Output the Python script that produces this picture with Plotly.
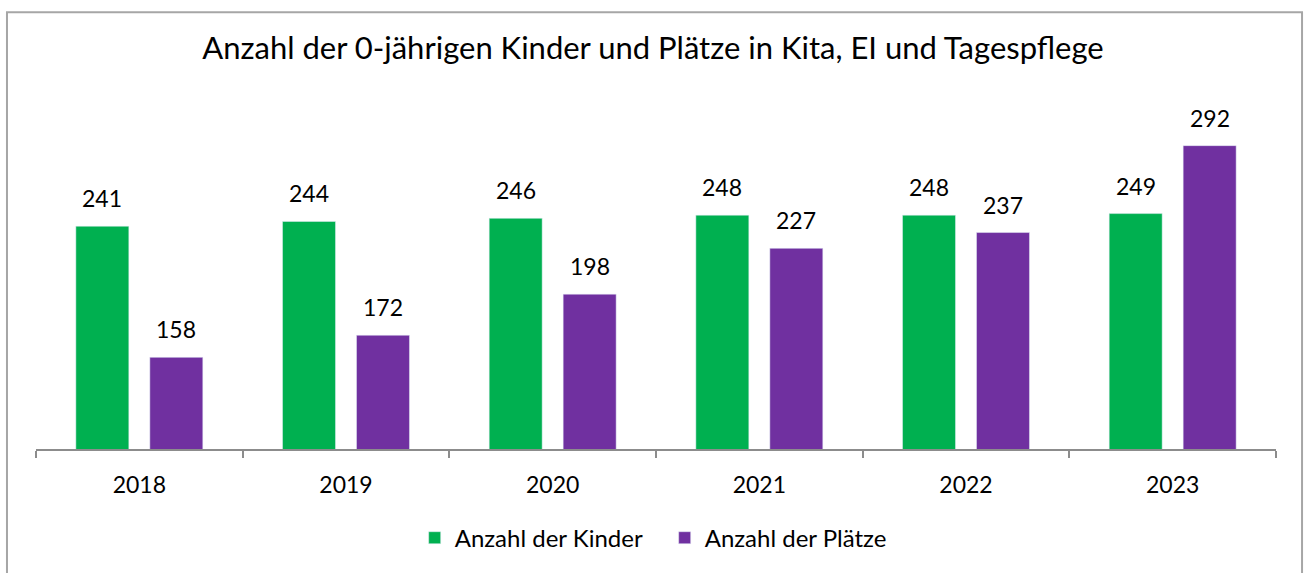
import plotly.graph_objects as go

years = ["2018", "2019", "2020", "2021", "2022", "2023"]
kinder = [241, 244, 246, 248, 248, 249]
plaetze = [158, 172, 198, 227, 237, 292]
series_names = ["Anzahl der Kinder", "Anzahl der Plätze"]
title_text = "Anzahl der 0-jährigen Kinder und Plätze in Kita, EI und Tagespflege"

GREEN = "#00B050"
PURPLE = "#7030A0"
FONT = "Lato, sans-serif"

fig = go.Figure()
fig.add_trace(go.Bar(x=years, y=kinder, name=series_names[0], marker_color=GREEN))
fig.add_trace(go.Bar(x=years, y=plaetze, name=series_names[1], marker_color=PURPLE))

annotations = []
for series, shift in ((kinder, -37), (plaetze, 37)):
    for i, v in enumerate(series):
        annotations.append(dict(
            x=i, y=v, xref="x", yref="y", text=str(v), showarrow=False,
            xshift=shift, yshift=12, yanchor="bottom",
            font=dict(family=FONT, size=23, color="#000000"),
        ))

fig.update_layout(
    width=1306, height=573,
    margin=dict(l=36, r=30, t=133, b=121),
    paper_bgcolor="white", plot_bgcolor="white",
    barmode="group", bargap=0.284, bargroupgap=0.284,
    font=dict(family=FONT, size=23, color="#000000"),
    title=dict(text=title_text, x=0.5, xref="container", xanchor="center",
               y=1 - 48 / 573, yref="container", yanchor="middle",
               font=dict(family=FONT, size=31, color="#000000")),
    xaxis=dict(type="category", range=[-0.5, len(years) - 0.5],
               showline=True, linecolor="#8C8C8C", linewidth=1.5,
               ticks="outside", tickson="boundaries", ticklen=7,
               tickcolor="#8C8C8C", tickwidth=1.5, ticklabelstandoff=15,
               showgrid=False, tickfont=dict(family=FONT, size=23)),
    yaxis=dict(range=[100, 300], visible=False, showgrid=False),
    legend=dict(orientation="h", x=0.507, xanchor="center", y=-0.282,
                yanchor="middle", font=dict(family=FONT, size=24),
                itemwidth=30, traceorder="normal",
                entrywidth=205, entrywidthmode="pixels"),
    annotations=annotations,
    shapes=[dict(type="rect", xref="paper", yref="paper",
                 x0=-0.0234, x1=1.0210, y0=-0.45, y1=1.3824,
                 line=dict(color="#A6A6A6", width=2), fillcolor="rgba(0,0,0,0)",
                 layer="below")],
)

fig.write_html("out.html", config={"displayModeBar": False},
               post_script="document.body.style.margin='0px';")
